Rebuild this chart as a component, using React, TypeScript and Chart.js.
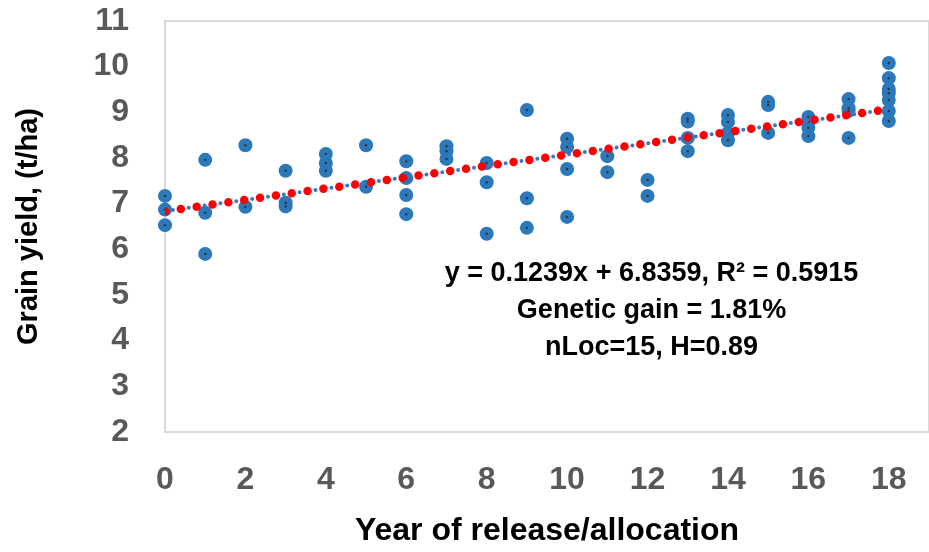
import { useEffect, useRef } from "react";
import { Chart, registerables } from "chart.js";

Chart.register(...registerables);

// Year of release/allocation for each entry
const releaseYear = [
  0, 0, 0,
  1, 1, 1,
  2, 2,
  3, 3, 3,
  4, 4, 4,
  5, 5,
  6, 6, 6, 6,
  7, 7, 7,
  8, 8, 8,
  9, 9, 9,
  10, 10, 10, 10,
  11, 11,
  12, 12,
  13, 13, 13, 13,
  14, 14, 14, 14,
  15, 15, 15,
  16, 16, 16, 16,
  17, 17, 17, 17,
  18, 18, 18, 18, 18, 18, 18,
];

// Grain yield (t/ha) for each entry
const grainYield = [
  7.17, 6.87, 6.53,
  7.96, 6.8, 5.9,
  8.28, 6.93,
  7.72, 7.02, 6.94,
  8.09, 7.89, 7.72,
  8.28, 7.37,
  7.93, 7.56, 7.19, 6.77,
  8.26, 8.15, 7.98,
  7.89, 7.47, 6.34,
  9.05, 7.12, 6.47,
  8.42, 8.24, 7.76, 6.71,
  8.04, 7.69,
  7.52, 7.17,
  8.86, 8.8, 8.44, 8.15,
  8.94, 8.79, 8.55, 8.39,
  9.23, 9.16, 8.55,
  8.9, 8.79, 8.66, 8.48,
  9.29, 9.09, 9.03, 8.44,
  10.08, 9.75, 9.51, 9.42, 9.27, 9.03, 8.81,
];

// Linear trend fitted to the entries
const trendSlope = 0.1239;
const trendIntercept = 6.8359;
const trendRange = [0, 18];

// Statistics printed inside the plot
const statLines = [
  "y = 0.1239x + 6.8359, R\u00B2 = 0.5915",
  "Genetic gain = 1.81%",
  "nLoc=15, H=0.89",
];
const statAnchorX = 12.1;
const statAnchorY = [5.46, 4.66, 3.86];

const FONT = "'Liberation Sans', Arial, sans-serif";
const CANVAS_W = 936;
const CANVAS_H = 552;

const points = releaseYear.map((x, i) => ({ x, y: grainYield[i] }));
const trendPoints = trendRange.map((x) => ({ x, y: trendIntercept + trendSlope * x }));

const framePlugin = {
  id: "plotFrame",
  beforeDatasetsDraw(chart: any) {
    const { ctx, chartArea } = chart;
    ctx.save();
    ctx.strokeStyle = "#d9d9d9";
    ctx.lineWidth = 2;
    ctx.strokeRect(
      chartArea.left,
      chartArea.top,
      chartArea.right - chartArea.left,
      chartArea.bottom - chartArea.top
    );
    ctx.restore();
  },
};

const statsPlugin = {
  id: "statsText",
  afterDatasetsDraw(chart: any) {
    const { ctx, scales } = chart;
    const cx = scales.x.getPixelForValue(statAnchorX);
    ctx.save();
    ctx.font = `bold 27px ${FONT}`;
    ctx.fillStyle = "#000000";
    ctx.textAlign = "center";
    ctx.textBaseline = "middle";
    statLines.forEach((line, i) => {
      ctx.fillText(line, cx, scales.y.getPixelForValue(statAnchorY[i]));
    });
    ctx.restore();
  },
};

export default function App() {
  const canvasRef = useRef<HTMLCanvasElement | null>(null);

  useEffect(() => {
    if (!canvasRef.current) return;
    Chart.defaults.font.family = FONT;
    const chart = new Chart(canvasRef.current, {
      type: "scatter",
      data: {
        datasets: [
          {
            type: "line",
            label: "trend (red)",
            data: trendPoints,
            borderColor: "#ff0000",
            borderWidth: 8.5,
            borderDash: [0, 16],
            borderCapStyle: "round",
            pointRadius: 0,
            fill: false,
            clip: 0,
          } as any,
          {
            type: "line",
            label: "trend (blue)",
            data: trendPoints,
            borderColor: "#4472c4",
            borderWidth: 4,
            borderDash: [0, 8],
            borderCapStyle: "round",
            pointRadius: 0,
            fill: false,
            clip: 0,
          } as any,
          {
            label: "centre",
            data: points,
            pointRadius: 1.2,
            pointBackgroundColor: "#333333",
            pointBorderWidth: 0,
            clip: false,
          } as any,
          {
            label: "Grain yield",
            data: points,
            pointRadius: 7,
            pointBackgroundColor: "#2b78bb",
            pointBorderWidth: 0,
            clip: false,
          } as any,
        ],
      },
      options: {
        responsive: false,
        animation: false,
        layout: { padding: { top: 21, right: 1, left: 0, bottom: 0 } },
        plugins: {
          legend: { display: false },
          tooltip: { enabled: false },
        },
        scales: {
          x: {
            type: "linear",
            min: 0,
            max: 19,
            grid: { display: false, drawTicks: true, tickLength: 29 },
            border: { display: false },
            ticks: {
              stepSize: 2,
              includeBounds: false,
              padding: 0,
              color: "#595959",
              font: { size: 32, weight: "bold", family: FONT },
            },
            title: {
              display: true,
              text: "Year of release/allocation",
              color: "#000000",
              font: { size: 32, weight: "bold", family: FONT },
              padding: { top: 0, bottom: 1.5 },
            },
            afterFit(scale: any) {
              scale.height = 120;
              scale.paddingLeft = 0;
              scale.paddingRight = 0;
            },
          },
          y: {
            type: "linear",
            min: 2,
            max: 11,
            grid: { display: false, drawTicks: true, tickLength: 36 },
            border: { display: false },
            ticks: {
              stepSize: 1,
              padding: 0,
              color: "#595959",
              font: { size: 32, weight: "bold", family: FONT },
            },
            title: {
              display: true,
              text: "Grain yield, (t/ha)",
              color: "#000000",
              font: { size: 29, weight: "bold", family: FONT },
              padding: { top: 12, bottom: 0 },
            },
            afterFit(scale: any) {
              scale.width = 165;
              scale.paddingTop = 0;
              scale.paddingBottom = 0;
            },
          },
        },
      } as any,
      plugins: [framePlugin, statsPlugin],
    });
    return () => chart.destroy();
  }, []);

  return (
    <div
      style={{
        position: "absolute",
        left: 0,
        top: 0,
        width: 929,
        height: 552,
        overflow: "hidden",
        background: "#ffffff",
      }}
    >
      <canvas ref={canvasRef} width={CANVAS_W} height={CANVAS_H} style={{ display: "block" }} />
    </div>
  );
}
